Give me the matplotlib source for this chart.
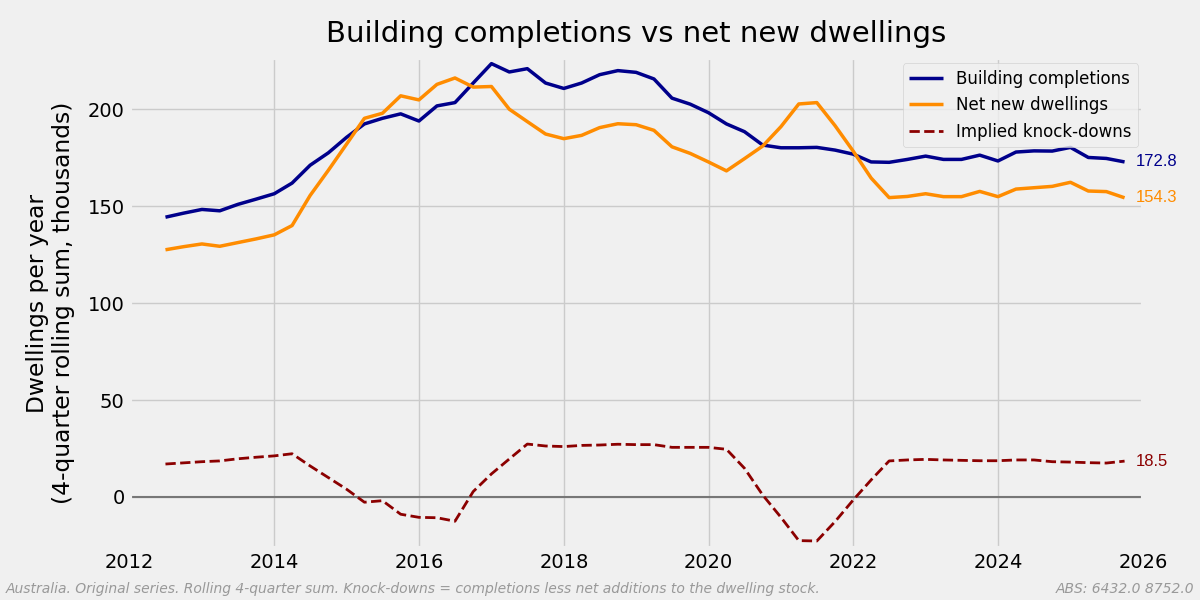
import matplotlib
matplotlib.use('Agg')
import matplotlib.pyplot as plt
import matplotlib.dates as mdates
import pandas as pd

# Quarterly, June 2012 to September 2025 (thousands, rolling 4-quarter sum)
quarters = pd.date_range('2012-06-30', periods=54, freq='QE')

completions = [
    144.3, 146.4, 148.3, 147.6, 150.9, 153.6, 156.4, 161.9, 171.1, 177.5,
    185.5, 192.4, 195.3, 197.6, 193.9, 201.7, 203.4, 213.5, 223.5, 219.2,
    220.9, 213.5, 210.7, 213.5, 217.8, 219.9, 219.0, 215.6, 205.7, 202.6,
    198.2, 192.4, 188.4, 181.5, 180.1, 180.1, 180.3, 178.9, 176.8, 172.8,
    172.6, 174.1, 175.8, 174.1, 174.1, 176.3, 173.3, 177.9, 178.5, 178.4,
    180.3, 175.1, 174.6, 172.8,
]
net_new = [
    127.5, 129.1, 130.5, 129.3, 131.2, 133.1, 135.2, 140.0, 155.5, 168.5,
    182.0, 195.3, 197.9, 206.9, 204.8, 212.8, 216.1, 211.4, 211.7, 200.0,
    193.6, 187.2, 184.8, 186.5, 190.5, 192.5, 192.0, 189.1, 180.6, 177.2,
    172.8, 168.2, 174.5, 181.0, 191.0, 202.7, 203.4, 191.5, 178.3, 164.5,
    154.4, 155.0, 156.4, 154.9, 154.9, 157.6, 154.9, 158.8, 159.5, 160.2,
    162.3, 157.8, 157.5, 154.3,
]
knockdowns = [
    17.0, 17.6, 18.2, 18.6, 19.7, 20.5, 21.2, 22.3, 16.0, 10.0,
    4.0, -2.7, -1.9, -8.9, -10.5, -10.7, -12.5, 2.8, 11.9, 19.6,
    27.3, 26.3, 26.0, 26.6, 26.8, 27.2, 27.0, 27.0, 25.6, 25.6,
    25.6, 24.6, 14.8, 1.0, -10.5, -22.5, -22.7, -12.7, -1.5, 8.8,
    18.6, 19.1, 19.4, 19.1, 18.9, 18.7, 18.7, 19.1, 19.1, 18.2,
    18.0, 17.7, 17.5, 18.5,
]

plt.style.use('fivethirtyeight')
fig, ax = plt.subplots(figsize=(12, 6), dpi=100)
fig.subplots_adjust(left=0.108, right=0.9525, bottom=0.0867, top=0.903)

ax.axhline(0, color='#777777', linewidth=1.5, zorder=1)
ax.plot(quarters, completions, color='darkblue', linewidth=2.5, label='Building completions')
ax.plot(quarters, net_new, color='darkorange', linewidth=2.5, label='Net new dwellings')
ax.plot(quarters, knockdowns, color='darkred', linewidth=2, linestyle='--', label='Implied knock-downs')

# End-of-series labels
for series, colour in [(completions, 'darkblue'), (net_new, 'darkorange'), (knockdowns, 'darkred')]:
    ax.annotate(f'{series[-1]:.1f}', xy=(quarters[-1], series[-1]), xytext=(8, 0),
                textcoords='offset points', ha='left', va='center',
                color=colour, fontsize=12, family='Liberation Sans')

ax.set_xlim(pd.Timestamp('2012-01-01'), pd.Timestamp('2026-01-01'))
ax.set_ylim(-26.3, 226.3)
ax.xaxis.set_major_locator(mdates.YearLocator(2))
ax.xaxis.set_major_formatter(mdates.DateFormatter('%Y'))

ax.set_title('Building completions vs net new dwellings', fontsize=21, pad=12)
ax.set_ylabel('Dwellings per year\n(4-quarter rolling sum, thousands)', labelpad=9)
ax.legend(loc='upper right', fontsize=12, borderaxespad=0.3)

fig.text(0.005, 0.006, 'Australia. Original series. Rolling 4-quarter sum. '
         'Knock-downs = completions less net additions to the dwelling stock.',
         ha='left', va='bottom', fontsize=10, style='italic', color='#999999')
fig.text(0.995, 0.006, 'ABS: 6432.0 8752.0', ha='right', va='bottom',
         fontsize=10, style='italic', color='#999999')

fig.savefig('out.png', dpi=100)
